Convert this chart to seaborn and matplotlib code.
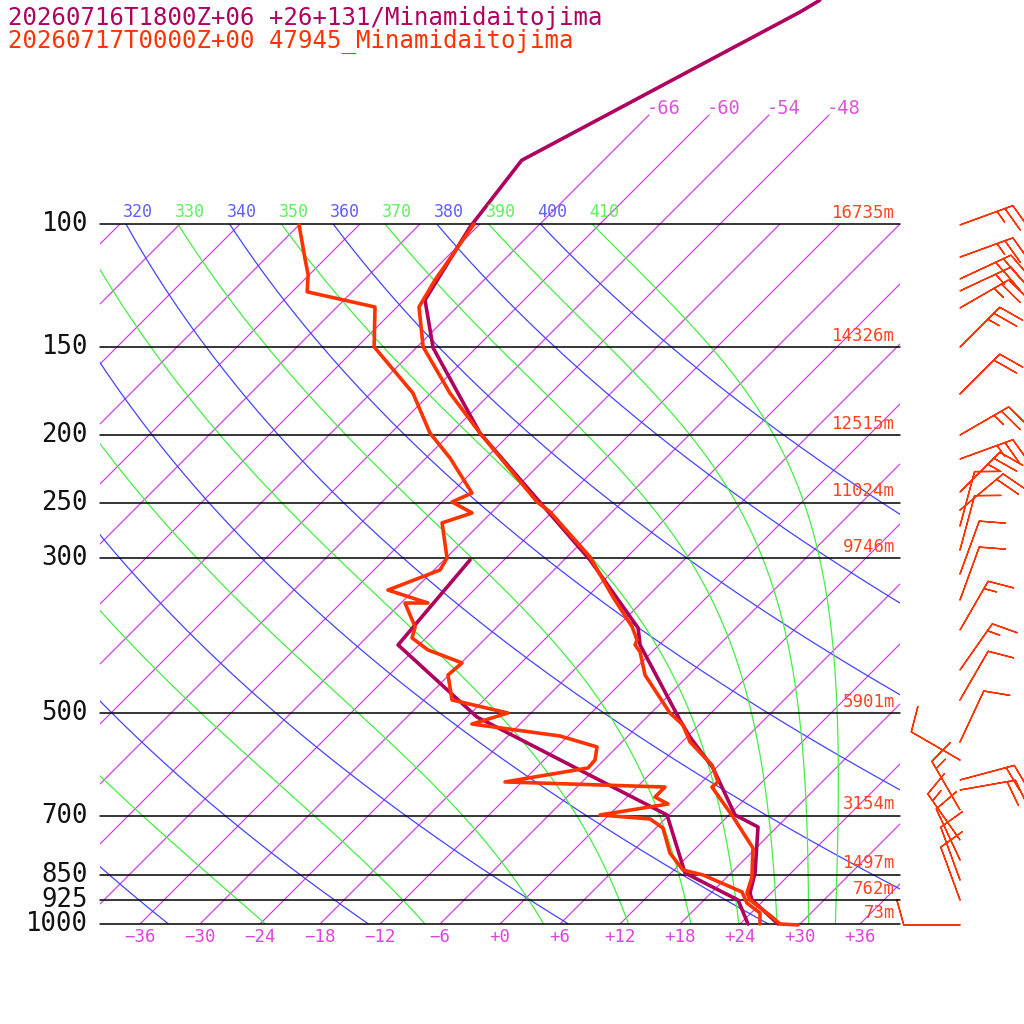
import numpy as np
import matplotlib
matplotlib.use("Agg")
import matplotlib.pyplot as plt
import seaborn as sns
from matplotlib.patches import Rectangle

# observed sounding (47945) - red
obs_p = [100.0, 120.2, 131.4, 149.8, 174.4, 198.9, 249.5, 257.8, 299.0, 341.1, 376.3, 392.8,
         399.3, 408.6, 440.8, 499.6, 519.7, 549.5, 592.8, 626.7, 637.3, 703.1, 778.9, 857.0,
         903.1, 924.0, 977.2, 1000.0, 1003.0]
obs_t = [-72.6, -70.9, -69.8, -65.4, -58.1, -51.1, -38.5, -36.2, -27.7, -21.4, -16.5, -14.7,
         -14.4, -13.2, -10.4, -4.1, -1.6, 0.8, 5.3, 7.6, 7.5, 12.6, 17.7, 20.5,
         21.6, 22.6, 26.5, 28.0, 29.9]
obs_dp = [100.3, 112.5, 118.2, 125.0, 131.4, 149.8, 174.4, 198.9, 215.9, 242.3, 249.5, 258.7,
          267.3, 300.0, 312.1, 333.4, 347.9, 347.9, 376.3, 390.3, 406.0, 423.7, 440.8, 478.6,
          499.6, 518.0, 538.8, 558.6, 583.1, 598.6, 626.7, 637.3, 658.6, 673.9, 698.6, 707.9,
          729.3, 791.9, 837.3, 851.1, 900.0, 933.3, 964.5, 1000.0]
obs_td = [-90.0, -85.9, -84.1, -82.5, -74.2, -70.3, -61.8, -56.1, -51.6, -45.9, -47.0, -43.9,
          -45.9, -41.9, -41.4, -44.6, -39.3, -41.6, -38.2, -37.4, -34.6, -29.9, -30.1, -27.2,
          -20.3, -22.8, -12.8, -8.0, -6.9, -6.8, -13.7, 2.8, 2.8, 4.8, -0.9, 4.5,
          6.7, 9.9, 12.9, 15.4, 21.0, 22.6, 24.9, 26.0]

# model forecast (+26+131) - magenta
mod_p = [47.9, 49.8, 81.1, 101.0, 128.4, 150.3, 198.9, 302.0, 377.6, 399.3, 511.3, 540.6,
         598.6, 698.6, 726.8, 845.5, 903.1, 924.0, 1000.0]
mod_t = [-60.4, -61.2, -74.2, -72.7, -69.9, -64.3, -51.1, -27.4, -15.8, -13.9, -2.4, 0.3,
         5.7, 12.6, 16.1, 20.4, 21.9, 22.8, 27.8]
mod_dp = [302.0, 399.3, 506.2, 698.6, 845.5, 924.0, 1000.0]
mod_td = [-39.4, -38.1, -23.0, 5.8, 13.4, 21.4, 24.8]

# observed winds: pressure, direction (deg from), speed (kt)
wind_p = [100.3, 111.5, 119.8, 124.6, 131.8, 149.9, 174.9, 200.2, 216.6, 241.5, 256.2,
          270.0, 292.2, 316.2, 344.4, 380.2, 433.6, 478.6, 549.5, 583.1, 622.6, 643.5,
          687.3, 758.6, 810.0, 865.3, 924.0, 1003.0]
wind_dir = [70, 70, 65, 65, 60, 45, 45, 60, 70, 45, 50,
            15, 15, 20, 20, 30, 35, 30, 25, 300, 75, 80,
            330, 325, 335, 340, 340, 270]
wind_spd = [25, 25, 25, 25, 25, 25, 20, 25, 25, 25, 20,
            10, 10, 10, 10, 15, 15, 10, 10, 10, 20, 20,
            15, 15, 10, 10, 10, 10]

levels = [100, 150, 200, 250, 300, 500, 700, 850, 925, 1000]
heights = ["16735m", "14326m", "12515m", "11024m", "9746m", "5901m", "3154m", "1497m", "762m", "73m"]
t_ticks = list(range(-36, 37, 6))
top_isotherms = [-66, -60, -54, -48]

RED = "#ff3300"
MAG = "#b0005e"
PURP = "#cc44dd"
BLUE = "#4444ff"
GREEN = "#44ee44"
SKEW = 70.0


def ycoord(p):
    return np.log10(1000.0 / np.asarray(p, dtype=float))


def xcoord(t, p):
    return np.asarray(t, dtype=float) + SKEW * ycoord(p)


def moist_adiabat(theta, ps):
    # integrate pseudo-adiabat downward from 100 hPa
    Rd, cp, Lv, eps = 287.0, 1004.0, 2.5e6, 0.622
    T = theta * (ps[0] / 1000.0) ** 0.2857
    out = [T]
    for i in range(1, len(ps)):
        p = ps[i - 1]
        dp = ps[i] - p
        es = 6.112 * np.exp(17.67 * (T - 273.15) / (T - 29.65))
        rs = eps * es / (p - es)
        dTdp = (Rd * T + Lv * rs) / (p * (cp + Lv * Lv * rs * eps / (Rd * T * T)))
        T = T + dTdp * dp
        out.append(T)
    return np.array(out) - 273.15


sns.set_style("white")
plt.rcParams["font.family"] = ["DejaVu Sans Mono"]
fig = plt.figure(figsize=(10.24, 10.24), dpi=100)
ax = fig.add_axes([0, 0, 1, 1])
ax.set_xlim(-50, 52.4)
ax.set_ylim(-100 / 700, 924 / 700)
ax.axis("off")

clip = Rectangle((-40, 0), 80, 1, transform=ax.transData, facecolor="none", edgecolor="none")
ax.add_patch(clip)

pp = np.linspace(100, 1000, 200)
# isotherms
for t in range(-150, 60, 6):
    ln, = ax.plot(xcoord(np.full_like(pp, t), pp), ycoord(pp), color=PURP, lw=0.9)
    ln.set_clip_path(clip)
for t in top_isotherms:
    pt = np.array([100.0, 1000 * 10 ** (-809 / 700)])
    ax.plot(xcoord([t, t], pt), ycoord(pt), color=PURP, lw=0.9)
    ax.text(xcoord(t, pt[1]) - 0.2, ycoord(pt[1]) - 0.004, f"{t}", color="#dd55dd",
            fontsize=13.5, ha="left", va="bottom")

# dry adiabats (blue) and moist adiabats (green)
for th in range(200, 420, 10):
    if th % 20 == 0:
        tt = th * (pp / 1000.0) ** 0.2857 - 273.15
        col = BLUE
    else:
        tt = moist_adiabat(th, pp)
        col = GREEN
    ln, = ax.plot(xcoord(tt, pp), ycoord(pp), color=col, lw=0.9)
    ln.set_clip_path(clip)
    x100 = xcoord(tt[0], 100)
    if -40 <= x100 <= 40:
        ax.text(x100 - 0.3, ycoord(100) + 0.004, str(th), color=col, fontsize=12,
                ha="left", va="bottom", alpha=0.85)

# pressure levels
for p, h in zip(levels, heights):
    ax.plot([-40, 40], [ycoord(p)] * 2, color="black", lw=1.1)
    ax.text(-41.2, ycoord(p), str(p), fontsize=18.5, ha="right", va="center", color="#111111")
    ax.text(39.5, ycoord(p) + 0.003, h, fontsize=12.5, ha="right", va="bottom", color="#ff4422")

for t in t_ticks:
    lab = f"+{t}" if t >= 0 else f"\u2212{-t}"
    ax.text(t, -0.005, lab, fontsize=12.5, ha="center", va="top", color="#dd44dd")

# profiles
sns.lineplot(x=xcoord(mod_t, mod_p), y=ycoord(mod_p), sort=False, estimator=None,
             color=MAG, lw=2.6, ax=ax)
sns.lineplot(x=xcoord(mod_td, mod_dp), y=ycoord(mod_dp), sort=False, estimator=None,
             color=MAG, lw=2.6, ax=ax)
sns.lineplot(x=xcoord(obs_td, obs_dp), y=ycoord(obs_dp), sort=False, estimator=None,
             color=RED, lw=2.6, ax=ax)
sns.lineplot(x=xcoord(obs_t, obs_p), y=ycoord(obs_p), sort=False, estimator=None,
             color=RED, lw=2.6, ax=ax)

# wind barbs
wd = np.radians(wind_dir)
u = -np.array(wind_spd) * np.sin(wd)
v = -np.array(wind_spd) * np.cos(wd)
ax.barbs(np.full(len(wind_p), 46.0), ycoord(wind_p), u, v, color=RED, length=9,
         linewidth=1.0, sizes=dict(height=0.45, spacing=0.15))

fig.text(8 / 1024, 1 - 18 / 1024, "20260716T1800Z+06 +26+131/Minamidaitojima", color=MAG,
         fontsize=17.3, va="center")
fig.text(8 / 1024, 1 - 41 / 1024, "20260717T0000Z+00 47945_Minamidaitojima", color=RED,
         fontsize=17.3, va="center")

fig.savefig("out.png", dpi=100, facecolor="white")
